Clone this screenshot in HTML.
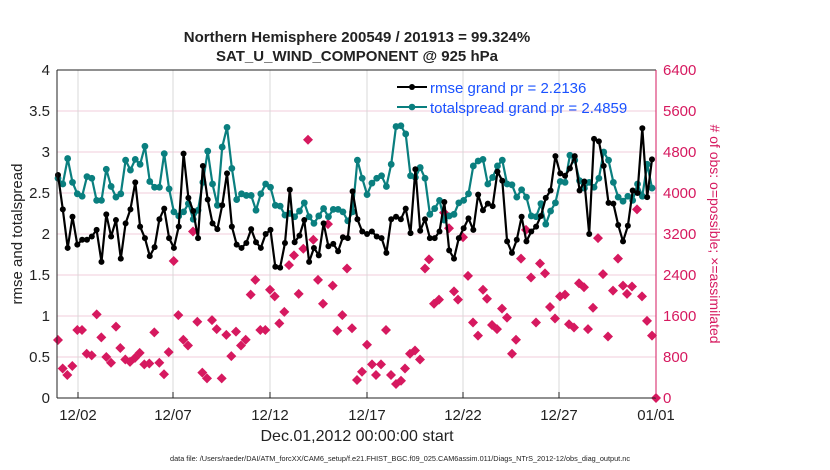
<!DOCTYPE html>
<html><head><meta charset="utf-8"><style>
body{margin:0;background:#fff;width:830px;height:470px;overflow:hidden}
svg{display:block;font-family:"Liberation Sans",sans-serif}
</style></head><body>
<svg id="s" width="830" height="470" viewBox="0 0 830 470">
<rect width="830" height="470" fill="#fff"/>
<g id="grid"></g>
<g id="data"></g>
<line x1="57" y1="70" x2="57" y2="398" stroke="#222" stroke-width="1"/>
<line x1="57" y1="70" x2="656" y2="70" stroke="#222" stroke-width="1"/>
<line x1="57" y1="398" x2="656" y2="398" stroke="#222" stroke-width="1"/>
<line x1="656" y1="70" x2="656" y2="398" stroke="#d6195f" stroke-width="1"/>
<g font-size="15" fill="#222" text-anchor="end">
<text x="50" y="75">4</text><text x="50" y="116">3.5</text><text x="50" y="157">3</text><text x="50" y="198">2.5</text><text x="50" y="239">2</text><text x="50" y="280">1.5</text><text x="50" y="321">1</text><text x="50" y="362">0.5</text><text x="50" y="403">0</text>
</g>
<g font-size="15" fill="#d6195f">
<text x="663" y="75">6400</text><text x="663" y="116">5600</text><text x="663" y="157">4800</text><text x="663" y="198">4000</text><text x="663" y="239">3200</text><text x="663" y="280">2400</text><text x="663" y="321">1600</text><text x="663" y="362">800</text><text x="663" y="403">0</text>
</g>
<g font-size="15" fill="#222" text-anchor="middle">
<text x="78" y="420">12/02</text><text x="173" y="420">12/07</text><text x="270" y="420">12/12</text><text x="367" y="420">12/17</text><text x="463" y="420">12/22</text><text x="559" y="420">12/27</text><text x="656" y="420">01/01</text>
<text x="357" y="441" font-size="16">Dec.01,2012 00:00:00 start</text>
<text x="357" y="42" font-size="15" font-weight="bold">Northern Hemisphere 200549 / 201913 = 99.324%</text>
<text x="357" y="61" font-size="15" font-weight="bold">SAT_U_WIND_COMPONENT @ 925 hPa</text>
<text x="400" y="461" font-size="7.5" textLength="460" lengthAdjust="spacingAndGlyphs">data file: /Users/raeder/DAI/ATM_forcXX/CAM6_setup/f.e21.FHIST_BGC.f09_025.CAM6assim.011/Diags_NTrS_2012-12/obs_diag_output.nc</text>
</g>
<text transform="translate(22,234) rotate(-90)" font-size="15" fill="#222" text-anchor="middle">rmse and totalspread</text>
<text transform="translate(710,234) rotate(90)" font-size="14" fill="#d6195f" text-anchor="middle">#  of obs: o=possible; ×=assimilated</text>
<g font-size="15" fill="#1a52ff">
<line x1="397" y1="87" x2="427" y2="87" stroke="#000" stroke-width="2"/><circle cx="412" cy="87" r="3" fill="#000"/>
<text x="430" y="93">rmse grand pr = 2.2136</text>
<line x1="397" y1="107" x2="427" y2="107" stroke="#0a7f7f" stroke-width="2"/><circle cx="412" cy="107" r="3.3" fill="#0a7f7f"/>
<text x="430" y="113">totalspread grand pr = 2.4859</text>
</g>
</svg>
<script>
var NS="http://www.w3.org/2000/svg",g=document.getElementById("grid"),d=document.getElementById("data");
function el(p,t,a){var e=document.createElementNS(NS,t);for(var k in a)e.setAttribute(k,a[k]);p.appendChild(e);return e;}
for(var i=1;i<8;i++){var y=70+i*41;el(g,"line",{x1:57,x2:656,y1:y,y2:y,stroke:"#f2cddb","stroke-width":1});}
[78,173,270,367,463,559].forEach(function(x){el(g,"line",{x1:x,x2:x,y1:70,y2:398,stroke:"#d8d8d8","stroke-width":1});el(g,"line",{x1:x,x2:x,y1:398,y2:392,stroke:"#222"});});
function Y(v){return 398-v*82;}
var rm=[2.72,2.30,1.83,2.21,1.87,1.93,1.93,1.97,2.05,1.66,2.24,1.97,2.17,1.70,2.13,2.30,2.63,2.09,1.95,1.73,1.84,2.18,2.31,1.95,1.83,2.09,2.98,2.44,2.28,1.95,2.83,2.42,2.13,2.06,2.35,2.74,2.09,1.87,1.83,1.89,2.06,1.90,1.83,2.0,2.05,1.60,1.59,1.89,2.54,1.90,1.98,2.17,1.66,1.83,1.74,2.13,1.85,1.88,1.79,1.96,1.95,2.52,2.18,
2.03,2.0,2.03,1.97,1.95,1.77,2.18,2.21,2.18,2.31,2.01,2.79,2.04,2.18,1.95,1.95,2.03,2.39,1.80,1.70,1.95,2.07,2.19,2.05,2.48,2.29,2.37,2.34,2.76,2.65,1.91,1.77,1.93,2.21,1.91,2.03,2.09,2.22,2.44,2.53,2.95,2.74,2.71,2.80,2.95,2.53,2.64,2.0,3.16,3.13,2.83,2.38,2.37,2.11,1.91,2.10,2.53,2.5,3.29,2.45,2.91];
var ts=[2.68,2.61,2.92,2.63,2.49,2.46,2.70,2.68,2.41,2.41,2.79,2.58,2.45,2.49,2.90,2.78,2.91,2.85,3.07,2.64,2.57,2.57,2.98,2.55,2.27,2.22,2.27,2.37,2.18,2.29,2.63,3.01,2.61,2.35,3.06,3.30,2.80,2.42,2.49,2.47,2.47,2.29,2.49,2.61,2.57,2.35,2.34,2.23,2.25,2.21,2.28,2.38,2.21,2.13,2.22,2.31,2.21,2.30,2.30,2.27,2.16,2.27,2.90,
2.68,2.48,2.62,2.68,2.71,2.58,2.85,3.31,3.32,3.22,2.71,2.69,2.81,2.68,2.24,2.31,2.41,2.17,2.22,2.24,2.38,2.41,2.49,2.83,2.89,2.91,2.61,2.69,2.83,2.90,2.61,2.60,2.45,2.54,2.45,2.22,2.21,2.37,2.12,2.28,2.38,2.64,2.63,2.96,2.90,2.65,2.56,2.63,2.57,2.68,3.00,2.90,2.63,2.45,2.40,2.46,2.41,2.61,2.46,2.85,2.56];
function X(i,n){return 58+i*(652-58)/(n-1);}
var ob=[[58,.707],[62.7,.36],[67.3,.28],[72.3,.39],[77.3,.83],[82,.83],[86.7,.54],[91.7,.52],[96.7,1.02],[101.3,.74],[106.3,.5],[111,.43],[116,.87],[120.3,.61],[125.3,.47],[130,.44],[135,.49],[139.7,.55],[144.3,.41],[149.3,.42],[154.3,.8],[159.3,.43],[164,.29],[168.7,.56],[173.7,1.67],[178.3,1.01],[183.3,.71],[188,.64],[193,2.03],[197.3,.93],[202.3,.31],[207,.24],[212,.95],[216.7,.84],[221.7,.24],[226.3,.77],[231.3,.51],[236,.81],[241,.64],[245.7,.71],[250.7,1.26],[255.3,1.44],[260.3,.83],[265.3,.83],[270,1.32],[274.7,1.24],[279.3,.91],[284.3,1.05],[289,1.62],[294,1.74],[298.7,1.27],[303.3,1.82],[308,3.15],[313.3,1.93],[318,1.44],[323,1.15],[328,2.12],[332.7,1.37],[337.3,.82],[342.3,1.01],[347,1.58],[352,.85],[357,.22],
[362,.32],[367,.65],[372,.41],[376,.28],[381,.41],[386,.83],[391,.28],[396,.17],[401,.21],[405,.36],[410,.54],[415,.58],[420,.47],[425,1.58],[429,1.69],[434,1.15],[439,1.2],[444,2.26],[449,2.07],[454,1.3],[458,1.2],[463,1.96],[468,1.49],[473,.92],[478,.76],[483,1.32],[487,1.21],[492,.89],[497,.84],[502,1.09],[507,.98],[512,.54],[516,.71],[521,1.7],[526,2.05],[531,1.47],[536,.92],[540,1.64],[545,1.52],[550,1.11],[555,.97],[560,1.24],[565,1.26],[569,.9],[574,.86],[579,1.4],[584,1.35],[588,.84],[593,1.1],[598,1.95],[603,1.51],[608,.75],[613,1.31],[618,1.7],[623,1.37],[627,1.27],[632,1.36],[637,2.3],[642,1.24],[647,.94],[652,.76],[656,0]];
ob.forEach(function(p){var x=p[0],y=Y(p[1]);el(d,"path",{d:"M"+x+" "+(y-5)+"L"+(x+5)+" "+y+"L"+x+" "+(y+5)+"L"+(x-5)+" "+y+"Z",fill:"#d6195f"});});
function series(a,c,r){var pts=a.map(function(v,i){return X(i,a.length).toFixed(1)+","+Y(v).toFixed(1);});
el(d,"polyline",{points:pts.join(" "),fill:"none",stroke:c,"stroke-width":2.2,"stroke-linejoin":"round"});
a.forEach(function(v,i){el(d,"circle",{cx:X(i,a.length),cy:Y(v),r:r,fill:c});});}
series(ts,"#0a7f7f",3.4);
series(rm,"#000",3);
</script>
</body></html>
